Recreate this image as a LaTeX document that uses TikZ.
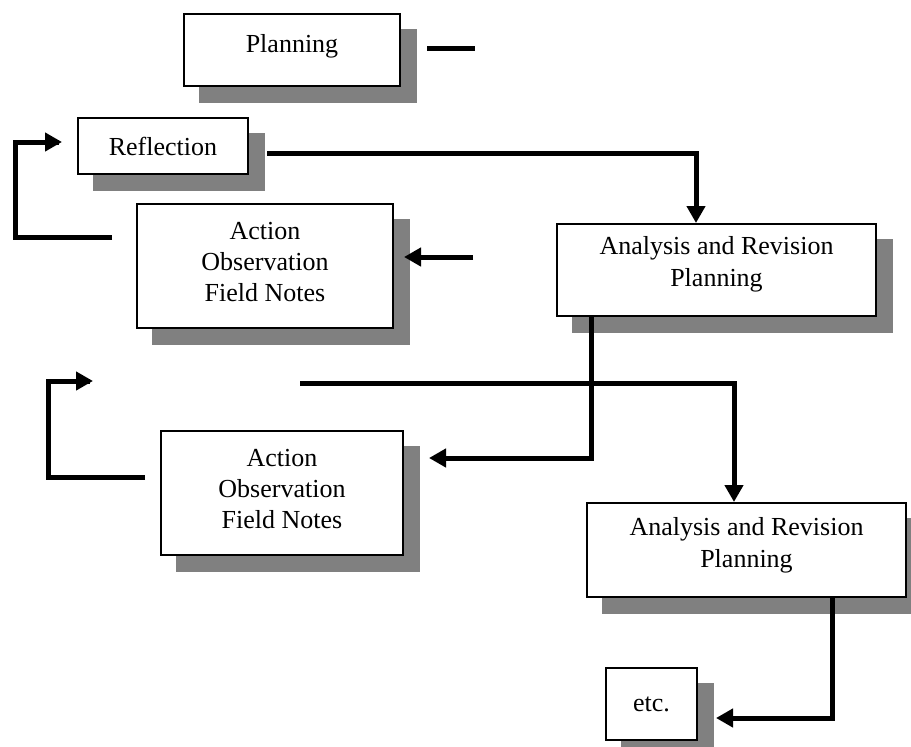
\documentclass[tikz,border=0pt]{standalone}
\usepackage{fontspec}
\setmainfont{Liberation Serif}
\usetikzlibrary{arrows.meta,backgrounds,calc}
\definecolor{shadowgray}{RGB}{128,128,128}
\tikzset{
  x=1pt, y=-1pt,
  box/.style={draw=black, line width=2pt, fill=white, inner sep=0pt},
  boxtext/.style={inner sep=0pt, align=center, font=\fontsize{26}{31}\selectfont},
  conn/.style={line width=5pt, line join=miter, line cap=butt},
  arr/.style={conn, -{Triangle[length=17pt,width=18pt]}},
}
\newcommand{\boxshadow}[1]{%
  \fill[shadowgray] ($(#1.north west)+(16,16)$) rectangle ($(#1.south east)+(16,16)$);}
\begin{document}
\begin{tikzpicture}
\useasboundingbox (0,0) rectangle (911,747);
% boxes
\node[box, minimum width=216pt, minimum height=72pt] (plan) at (292,50) {};
\node[boxtext] (plant) at ($(plan.center)+(0,-4)$) {Planning};
\node[box, minimum width=170pt, minimum height=56pt] (refl) at (163,146) {};
\node[boxtext] (reflt) at (refl.center) {Reflection};
\node[box, minimum width=256pt, minimum height=124pt] (act1) at (265,266) {};
\node[boxtext] (act1t) at ($(act1.center)+(0,-4)$) {Action\\Observation\\Field Notes};
\node[box, minimum width=319pt, minimum height=92pt] (ana1) at (716.5,270) {};
\node[boxtext] (ana1t) at ($(ana1.center)+(0,-6)$) {Analysis and Revision\\[1pt]Planning};
\node[box, minimum width=242pt, minimum height=124pt] (act2) at (282,493) {};
\node[boxtext] (act2t) at ($(act2.center)+(0,-4)$) {Action\\Observation\\Field Notes};
\node[box, minimum width=319pt, minimum height=94pt] (ana2) at (746.5,550) {};
\node[boxtext] (ana2t) at ($(ana2.center)+(0,-5)$) {Analysis and Revision\\[1pt]Planning};
\node[box, minimum width=91pt, minimum height=72pt] (etc) at (651.5,704) {};
\node[boxtext] (etct) at (etc.center) {etc.};
\begin{scope}[on background layer]
  \boxshadow{plan}\boxshadow{refl}\boxshadow{act1}\boxshadow{ana1}
  \boxshadow{act2}\boxshadow{ana2}\boxshadow{etc}
\end{scope}
% free ends
\coordinate (d1) at (427,48);
\coordinate (d2) at (475,48);
\coordinate (r1) at (267,153);
\coordinate (l1a) at (112,237);
\coordinate (l1b) at (62,142);
\coordinate (a1in) at (473,257);
\coordinate (r2) at (300,383);
\coordinate (l2a) at (145,477);
\coordinate (l2b) at (93,381);
% connectors
\draw[conn] (d1) -- (d2);
\draw[arr] (r1) -| ($(ana1.north west)+(140,0)$);
\draw[conn] (l1a) -- (15,237) -- (15,142) -- ($(l1b)+(-3,0)$);
\draw[arr] ($(l1b)+(-20,0)$) -- (l1b);
\draw[arr] (a1in) -- ($(act1.east)+(10,-9)$);
\draw[arr] ($(ana1.south west)+(35,0)$) |- ($(act2.east)+(25,-35)$);
\draw[arr] (r2) -| ($(ana2.north west)+(148,0)$);
\draw[conn] (l2a) -- (48,477) -- (48,381) -- ($(l2b)+(-3,0)$);
\draw[arr] ($(l2b)+(-20,0)$) -- (l2b);
\draw[arr] ($(ana2.south west)+(246,0)$) |- ($(etc.east)+(18,14)$);
\end{tikzpicture}
\end{document}
